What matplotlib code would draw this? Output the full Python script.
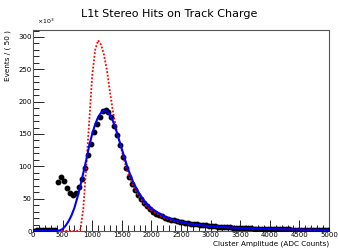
import matplotlib
matplotlib.use('Agg')
import matplotlib.pyplot as plt
from matplotlib.ticker import MultipleLocator
import numpy as np

# binned data: 50 ADC bins, values in units of 1e3 events
bin_centers = np.arange(25, 5000, 50)
counts = [0.5, 0.8, 1.0, 1.2, 1.5, 1.8, 2.0, 2.2, 76, 83,
          78, 67, 58, 56, 59, 68, 81, 98, 117, 135,
          153, 166, 177, 185, 187, 184, 176, 163, 149, 133,
          115, 98, 84, 73, 63, 55, 49, 43, 38, 34,
          30, 27, 25, 22.5, 20.5, 19, 17.5, 16.5, 15.5, 14.5,
          13.5, 12.8, 12, 11.3, 10.7, 10.2, 9.7, 9.2, 8.7, 8.2,
          7.7, 7.3, 6.9, 6.5, 6.1, 5.8, 5.5, 5.2, 4.9, 4.7,
          4.5, 4.3, 4.1, 3.9, 3.7, 3.5, 3.4, 3.2, 3.1, 3.0,
          2.9, 2.8, 2.7, 2.6, 2.5, 2.45, 2.4, 2.3, 2.25, 2.2,
          2.15, 2.1, 2.05, 2.0, 1.95, 1.9, 1.85, 1.8, 1.8, 1.75]

# blue fit curve
fit_x = [0, 400, 450, 500, 550, 600, 650, 700, 750, 800, 850, 900, 950, 1000,
         1050, 1100, 1150, 1200, 1250, 1300, 1350, 1400, 1450, 1500, 1600,
         1700, 1800, 1900, 2000, 2200, 2400, 2600, 2800, 3000, 3500, 4000,
         4500, 5000]
fit_y = [0.3, 0.3, 0.8, 3, 8, 15, 24, 36, 52, 70, 90, 110, 132, 150,
         165, 176, 183, 186, 185, 180, 170, 157, 142, 127, 97,
         74, 57, 44, 35, 23, 16, 12, 9.3, 7.4, 4.5, 3.0,
         2.2, 1.6]

# red dotted curve
red_x = [0, 750, 800, 850, 900, 950, 1000, 1050, 1100, 1150, 1200, 1250,
         1300, 1350, 1400, 1450, 1500, 1550, 1600, 1700, 1800, 1900, 2000,
         2200, 2400, 2600, 2800, 3000, 3500, 4000, 4500, 5000]
red_y = [0, 0, 2, 35, 100, 170, 240, 280, 295, 288, 272, 248,
         215, 185, 161, 142, 124, 106, 90, 68, 52, 40, 32,
         21, 15, 11.3, 9, 7.3, 4.4, 3.0, 2.2, 1.6]

fig = plt.figure(figsize=(3.38, 2.49), dpi=100)
ax = fig.add_axes([33/338, 18/249, 296/338, 201/249])

ax.plot(bin_centers, counts, 'o', color='black', markersize=3.2, zorder=3)
ax.plot(red_x, red_y, color='red', linestyle=(0, (1, 1)), linewidth=1.3, zorder=4)
ax.plot(fit_x, fit_y, color='blue', linewidth=1.5, zorder=5)

ax.set_xlim(0, 5000)
ax.set_ylim(0, 310.8)
ax.xaxis.set_major_locator(MultipleLocator(500))
ax.xaxis.set_minor_locator(MultipleLocator(100))
ax.yaxis.set_major_locator(MultipleLocator(50))
ax.yaxis.set_minor_locator(MultipleLocator(10))
ax.tick_params(which='both', direction='in', top=False, right=False,
               labelsize=5, pad=1, width=0.6)
ax.tick_params(which='major', length=8)
ax.tick_params(which='minor', length=4)
for s in ax.spines.values():
    s.set_linewidth(0.8)
    s.set_color('#555555')

fig.text(0.5, 235/249, 'L1t Stereo Hits on Track Charge',
         ha='center', va='center', fontsize=8)
fig.text(37/338, 223/249, r'$\times10^3$', fontsize=4.5, ha='left', va='bottom')
fig.text(8/338, 219/249, 'Events / ( 50 )', rotation=90, ha='center',
         va='top', fontsize=5.2)
fig.text(329/338, 2/249, 'Cluster Amplitude (ADC Counts)', ha='right',
         va='bottom', fontsize=5.2)

fig.savefig('out.png', dpi=100)
